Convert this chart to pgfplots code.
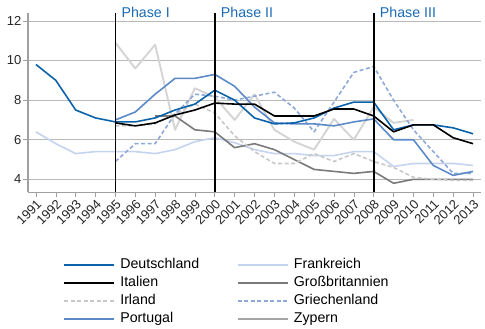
\documentclass[border=0pt]{standalone}
\usepackage{fontspec}
\setmainfont{Liberation Sans}
\usepackage{pgfplots}
\pgfplotsset{compat=1.18}
\definecolor{cDE}{RGB}{10,98,170}
\definecolor{cPT}{RGB}{92,138,200}
\definecolor{cFR}{RGB}{196,211,238}
\definecolor{cGB}{RGB}{122,122,122}
\definecolor{cGR}{RGB}{143,168,218}
\definecolor{cIE}{RGB}{200,200,200}
\definecolor{cCY}{RGB}{212,212,212}
\definecolor{cCYleg}{RGB}{165,165,165}
\definecolor{cGrid}{RGB}{185,185,185}
\definecolor{cAxis}{RGB}{160,160,160}
\definecolor{cPhase}{RGB}{26,106,180}
\begin{document}
\begin{tikzpicture}
\begin{axis}[
  scale only axis,
  clip=false,
  width=453bp, height=179bp,
  xmin=1990.6, xmax=2013.4,
  ymin=3.36, ymax=12.4,
  axis x line*=bottom, axis y line*=left,
  x axis line style={cAxis, line width=0.6bp, -},
  y axis line style={cAxis, line width=1.3bp, -},
  xtick={1991,...,2013},
  ytick={4,6,8,10,12},
  x tick label style={/pgf/number format/1000 sep={}, rotate=45, anchor=north east, inner sep=1bp, font=\fontsize{13bp}{15bp}\selectfont, text=black!85},
  y tick label style={inner sep=1.5bp, font=\fontsize{13bp}{15bp}\selectfont, text=black!85},
  /pgf/number format/assume math mode=true,
  tick align=outside,
  major tick length=5bp,
  tick style={cAxis, line width=0.6bp},
  ymajorgrids,
  grid style={cGrid, line width=0.6bp},
  every axis plot/.append style={line width=1.6bp, line join=round},
  legend style={at={(0.0773,-0.3576)}, anchor=north west, draw=none, fill=none, inner sep=0pt,
    legend columns=2, font=\fontsize{14.2bp}{16bp}\selectfont,
    nodes={inner sep=1.5bp, text height=11bp, text depth=4bp},
    /tikz/every odd column/.append style={column sep=4bp},
    /tikz/every even column/.append style={column sep=36bp}},
  legend cell align=left,
  legend image code/.code={\draw[#1] (0bp,0bp) -- (50bp,0bp);},
]
% legend entries
\addlegendimage{cDE, line width=1.6bp}\addlegendentry{Deutschland}
\addlegendimage{cFR, line width=1.6bp}\addlegendentry{Frankreich}
\addlegendimage{black, line width=1.6bp}\addlegendentry{Italien}
\addlegendimage{cGB, line width=1.6bp}\addlegendentry{Großbritannien}
\addlegendimage{cIE, line width=1.6bp, dash pattern=on 4bp off 2.5bp}\addlegendentry{Irland}
\addlegendimage{cGR, line width=1.6bp, dash pattern=on 4bp off 2.5bp}\addlegendentry{Griechenland}
\addlegendimage{cPT, line width=1.6bp}\addlegendentry{Portugal}
\addlegendimage{cCYleg, line width=1.6bp}\addlegendentry{Zypern}

% Zypern
\addplot[cCY, line width=1.9bp, forget plot] coordinates {(1995,10.9)(1996,9.6)(1997,10.8)(1998,6.5)(1999,8.6)(2000,8.15)(2001,7.0)(2002,8.3)(2003,6.5)(2004,5.9)(2005,5.5)(2006,7.05)(2007,6.0)(2008,7.65)(2009,6.85)(2010,7.0)};
% Frankreich
\addplot[cFR, forget plot] coordinates {(1991,6.4)(1992,5.8)(1993,5.3)(1994,5.4)(1995,5.4)(1996,5.4)(1997,5.3)(1998,5.5)(1999,5.9)(2000,6.1)(2001,5.85)(2002,5.5)(2003,5.3)(2004,5.3)(2005,5.2)(2006,5.2)(2007,5.4)(2008,5.4)(2009,4.65)(2010,4.8)(2011,4.8)(2012,4.8)(2013,4.7)};
% Grossbritannien
\addplot[cGB, forget plot] coordinates {(1997,7.2)(1998,7.2)(1999,6.5)(2000,6.4)(2001,5.6)(2002,5.8)(2003,5.5)(2004,5.0)(2005,4.5)(2006,4.4)(2007,4.3)(2008,4.4)(2009,3.8)(2010,4.0)(2011,4.0)(2012,4.0)(2013,4.0)};
% Irland
\addplot[cIE, dash pattern=on 4bp off 2.5bp, forget plot] coordinates {(1995,6.7)(1996,6.7)(1997,6.8)(1998,7.3)(1999,7.8)(2000,7.35)(2001,6.2)(2002,5.4)(2003,4.8)(2004,4.8)(2005,5.3)(2006,4.9)(2007,5.3)(2008,4.9)(2009,4.6)(2010,4.1)(2011,4.0)(2012,3.95)(2013,3.95)};
% Griechenland
\addplot[cGR, dash pattern=on 4bp off 2.5bp, forget plot] coordinates {(1995,4.9)(1996,5.8)(1997,5.8)(1998,7.3)(1999,8.3)(2000,8.2)(2001,8.0)(2002,8.2)(2003,8.4)(2004,7.6)(2005,6.4)(2006,7.9)(2007,9.4)(2008,9.7)(2009,8.0)(2010,6.5)(2011,5.4)(2012,4.3)(2013,4.3)};
% Portugal
\addplot[cPT, forget plot] coordinates {(1995,7.0)(1996,7.4)(1997,8.3)(1998,9.1)(1999,9.1)(2000,9.3)(2001,8.7)(2002,7.65)(2003,6.85)(2004,6.8)(2005,6.8)(2006,6.7)(2007,6.9)(2008,7.05)(2009,6.0)(2010,6.0)(2011,4.7)(2012,4.2)(2013,4.4)};
% Deutschland
\addplot[cDE, forget plot] coordinates {(1991,9.8)(1992,9.0)(1993,7.5)(1994,7.1)(1995,6.9)(1996,6.9)(1997,7.1)(1998,7.5)(1999,7.8)(2000,8.5)(2001,8.0)(2002,7.1)(2003,6.8)(2004,6.85)(2005,7.1)(2006,7.6)(2007,7.9)(2008,7.9)(2009,6.5)(2010,6.75)(2011,6.75)(2012,6.6)(2013,6.3)};
% Italien
\addplot[black, forget plot] coordinates {(1995,6.85)(1996,6.7)(1997,6.85)(1998,7.25)(1999,7.5)(2000,7.85)(2001,7.8)(2002,7.8)(2003,7.2)(2004,7.2)(2005,7.2)(2006,7.55)(2007,7.55)(2008,7.2)(2009,6.4)(2010,6.75)(2011,6.75)(2012,6.1)(2013,5.8)};
% phase lines
\addplot[black, line width=1.8bp, forget plot] coordinates {(1995,3.36)(1995,12.4)};
\addplot[black, line width=1.8bp, forget plot] coordinates {(2000,3.36)(2000,12.4)};
\addplot[black, line width=1.8bp, forget plot] coordinates {(2008,3.36)(2008,12.4)};
\node[anchor=base west, text=cPhase, font=\fontsize{14.2bp}{16bp}\selectfont, inner sep=0pt] at ([xshift=6bp,yshift=-4bp]axis cs:1995,12.4) {Phase I};
\node[anchor=base west, text=cPhase, font=\fontsize{14.2bp}{16bp}\selectfont, inner sep=0pt] at ([xshift=6bp,yshift=-4bp]axis cs:2000,12.4) {Phase II};
\node[anchor=base west, text=cPhase, font=\fontsize{14.2bp}{16bp}\selectfont, inner sep=0pt] at ([xshift=6bp,yshift=-4bp]axis cs:2008,12.4) {Phase III};
\end{axis}
\pgfresetboundingbox
\path[use as bounding box] ([shift={(-28bp,-137bp)}]current axis.south west) rectangle ([shift={(457bp,192bp)}]current axis.south west);
\end{tikzpicture}
\end{document}
